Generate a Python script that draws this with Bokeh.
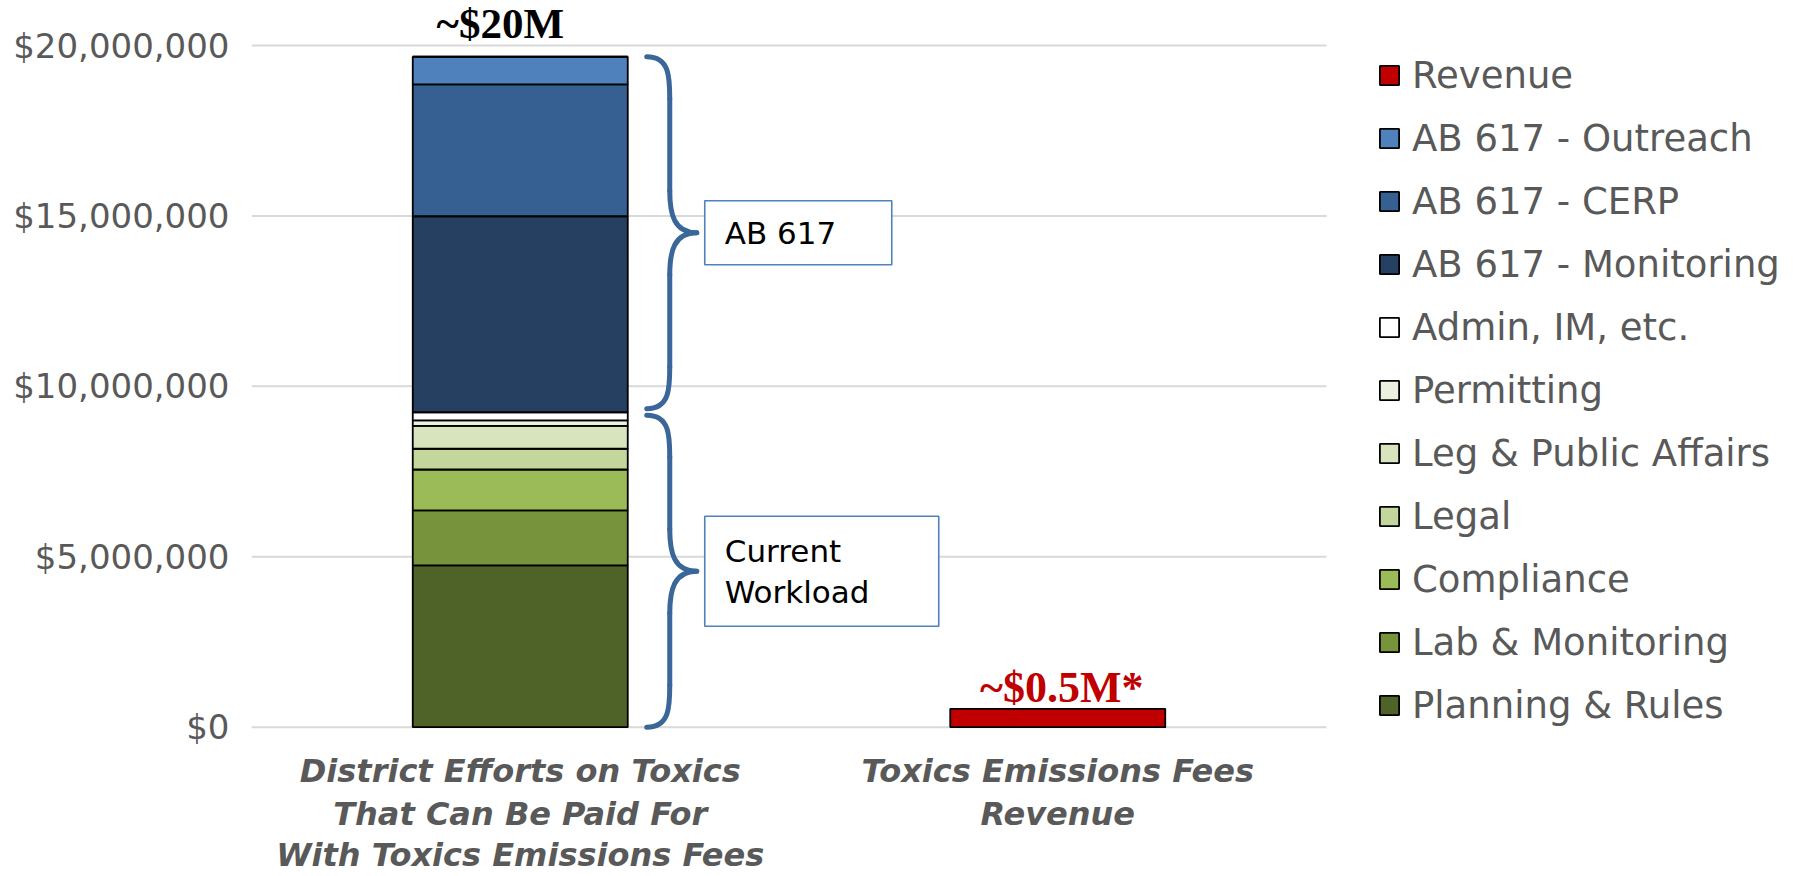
from bokeh.plotting import figure
from bokeh.models import (ColumnDataSource, Range1d, FixedTicker, NumeralTickFormatter,
                          Legend, LegendItem, Label)
from bokeh.core.properties import value
from bokeh.embed import file_html
from bokeh.resources import INLINE

# ---------------- data ----------------
categories = ["District Efforts on Toxics\nThat Can Be Paid For\nWith Toxics Emissions Fees",
              "Toxics Emissions Fees\nRevenue"]

series = ["Planning & Rules", "Lab & Monitoring", "Compliance", "Legal",
          "Leg & Public Affairs", "Permitting", "Admin, IM, etc.",
          "AB 617 - Monitoring", "AB 617 - CERP", "AB 617 - Outreach", "Revenue"]

planning_rules     = [4.75e6, 0]
lab_monitoring     = [1.61e6, 0]
compliance         = [1.20e6, 0]
legal              = [0.61e6, 0]
leg_public_affairs = [0.67e6, 0]
permitting         = [0.16e6, 0]
admin_im           = [0.24e6, 0]
ab617_monitoring   = [5.75e6, 0]
ab617_cerp         = [3.87e6, 0]
ab617_outreach     = [0.81e6, 0]
revenue            = [0, 0.54e6]

colors = ["#4F6228", "#77933C", "#9BBB59", "#C3D69B", "#D7E4BD", "#EBF1DE",
          "#FFFFFF", "#254061", "#376092", "#4F81BD", "#C00000"]

y_ticks = [0, 5e6, 10e6, 15e6, 20e6]
total_labels = ["~$20M", "~$0.5M*"]
group_labels = ["Current\nWorkload", "AB 617"]
n_current = 7   # first seven series = current workload, next three = AB 617

values = [planning_rules, lab_monitoring, compliance, legal, leg_public_affairs,
          permitting, admin_im, ab617_monitoring, ab617_cerp, ab617_outreach, revenue]

# ---------------- layout (pixels) ----------------
W, H = 1790, 874
ML = 251                 # frame left
CAT_W = 537.5            # pixels per category
Y0_PX, YTOP_PX = 726.7, 45.0   # pixel rows of $0 and $20M
YMAX = 20e6
PX = 1.0 / CAT_W
PY = YMAX / (Y0_PX - YTOP_PX)

FW = W - ML
x_end = FW * PX
y_start = -(H - Y0_PX) * PY
y_end = YMAX + YTOP_PX * PY

xs = [i + 0.5 for i in range(len(categories))]
data = {"x": xs}
for name, v in zip(series, values):
    data[name] = v
source = ColumnDataSource(data)

p = figure(width=W, height=H, output_backend="svg", toolbar_location=None,
           x_range=Range1d(0, x_end), y_range=Range1d(y_start, y_end),
           min_border_left=ML, min_border_right=0, min_border_top=0, min_border_bottom=0,
           background_fill_color="white", border_fill_color="white")
p.outline_line_color = None

# grid lines (limited to the category area)
p.segment(x0=[0] * len(y_ticks), x1=[len(categories)] * len(y_ticks), y0=y_ticks, y1=y_ticks,
          line_color="#D9D9D9", line_width=2)

renderers = p.vbar_stack(series, x="x", width=0.4, source=source, color=colors,
                         line_color="black", line_width=1.8)
for r, c in zip(renderers, colors):
    r.glyph.fill_color = c
    r.glyph.line_color = "black"

# axes
p.xaxis.visible = False
p.xgrid.visible = False
p.ygrid.visible = False
p.yaxis.ticker = FixedTicker(ticks=y_ticks)
p.yaxis.formatter = NumeralTickFormatter(format="$0,0")
p.yaxis.major_label_text_font = "DejaVu Sans"
p.yaxis.major_label_text_font_size = "34px"
p.yaxis.major_label_text_color = "#595959"
p.yaxis.axis_line_color = None
p.yaxis.major_tick_line_color = None
p.yaxis.minor_tick_line_color = None
p.yaxis.major_tick_out = 0
p.yaxis.major_label_standoff = 22

# category labels (below the bars)
line_offsets = [44, 86.5, 128]
for i, cat in enumerate(categories):
    for j, line in enumerate(cat.split("\n")):
        p.add_layout(Label(x=xs[i], y=0, y_offset=-line_offsets[j], text=line,
                           text_align="center", text_baseline="middle",
                           text_font="DejaVu Sans", text_font_style="bold italic",
                           text_font_size="32px", text_color="#595959"))

# totals
totals = [sum(v[i] for v in values) for i in range(len(categories))]
p.add_layout(Label(x=xs[0], y=totals[0], x_offset=-20, y_offset=33, text=total_labels[0],
                   text_align="center", text_baseline="alphabetic",
                   text_font="Liberation Serif", text_font_style="bold",
                   text_font_size="43px", text_color="black"))
p.add_layout(Label(x=xs[1], y=totals[1], x_offset=4, y_offset=21, text=total_labels[1],
                   text_align="center", text_baseline="alphabetic",
                   text_font="Liberation Serif", text_font_style="bold",
                   text_font_size="44px", text_color="#C00000"))

# braces
current_sum = sum(v[0] for v in values[:n_current])
bar_right = xs[0] + 0.2
x0 = bar_right + 19 * PX
xm = bar_right + 42 * PX
xt = bar_right + 69 * PX
r = 42 * PY

def brace(ylo, yhi):
    ymid = (ylo + yhi) / 2
    return [
        (x0, yhi, xm, yhi - r, xm, yhi, xm, yhi - r * 0.5),
        (xm, yhi - r, xm, ymid + r, xm, yhi - r, xm, ymid + r),
        (xm, ymid + r, xt, ymid, xm, ymid + r * 0.45, xm + (xt - xm) * 0.15, ymid),
        (xt, ymid, xm, ymid - r, xm + (xt - xm) * 0.15, ymid, xm, ymid - r * 0.45),
        (xm, ymid - r, xm, ylo + r, xm, ymid - r, xm, ylo + r),
        (xm, ylo + r, x0, ylo, xm, ylo + r * 0.5, xm, ylo),
    ]

braces = [(0.0, current_sum - 0.09e6), (current_sum + 0.1e6, totals[0])]
segs = []
for lo, hi in braces:
    segs += brace(lo, hi)
bsrc = ColumnDataSource(dict(
    x0=[s[0] for s in segs], y0=[s[1] for s in segs],
    x1=[s[2] for s in segs], y1=[s[3] for s in segs],
    cx0=[s[4] for s in segs], cy0=[s[5] for s in segs],
    cx1=[s[6] for s in segs], cy1=[s[7] for s in segs]))
p.bezier(x0="x0", y0="y0", x1="x1", y1="y1", cx0="cx0", cy0="cy0", cx1="cx1", cy1="cy1",
         source=bsrc, line_color="#3A6699", line_width=5, line_cap="round")

# text boxes
box_left = bar_right + 77 * PX
box_rights = [bar_right + 311 * PX, bar_right + 264 * PX]
box_heights = [110 * PY, 64 * PY]
mids = [(lo + hi) / 2 for lo, hi in braces]
p.quad(left=[box_left] * 2, right=box_rights,
       bottom=[m - h / 2 for m, h in zip(mids, box_heights)],
       top=[m + h / 2 for m, h in zip(mids, box_heights)],
       fill_color="white", line_color="#4F81BD", line_width=1.6)
p.text(x=[bar_right + 97 * PX] * 2, y=mids, text=group_labels,
       text_align="left", text_baseline="middle", text_font=value("DejaVu Sans"),
       text_font_size="31px", text_color="black", text_line_height=1.15)

# legend (reverse stack order, Revenue on top)
items = [LegendItem(label=name, renderers=[rnd]) for name, rnd in
         reversed(list(zip(series, renderers)))]
legend = Legend(items=items, location=(1126, H - 726.5), padding=0, margin=0, spacing=20,
                glyph_width=24, glyph_height=24, label_standoff=11,
                label_text_font="DejaVu Sans", label_text_font_size="37px",
                label_text_color="#595959", border_line_color=None,
                background_fill_alpha=0)
p.add_layout(legend)

open("out.html", "w").write(file_html(p, INLINE))
